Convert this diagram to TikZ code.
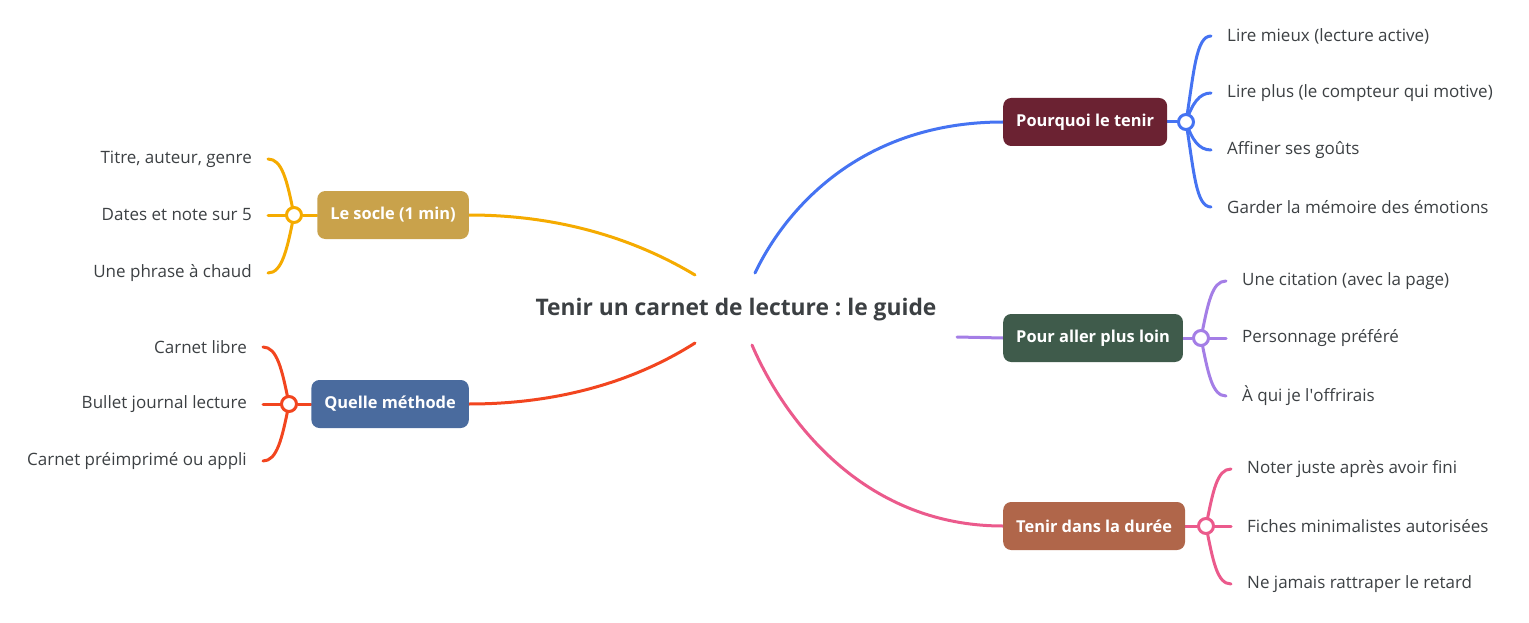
\documentclass[tikz,border=0pt]{standalone}
\usepackage{fontspec}
\setmainfont{Open Sans}
\usetikzlibrary{positioning}
\frenchspacing

\definecolor{ink}{HTML}{3C4043}
\definecolor{cBlue}{HTML}{4573F2}
\definecolor{cPurple}{HTML}{A47EE6}
\definecolor{cPink}{HTML}{EB5A8C}
\definecolor{cYellow}{HTML}{F5AB00}
\definecolor{cRed}{HTML}{F2451F}
\definecolor{boxWhy}{HTML}{6B2232}
\definecolor{boxMore}{HTML}{3F5B4B}
\definecolor{boxKeep}{HTML}{B0664A}
\definecolor{boxBase}{HTML}{C9A24B}
\definecolor{boxHow}{HTML}{4A6B9E}

\pgfdeclarelayer{bg}
\pgfsetlayers{bg,main}

\tikzset{
  topic/.style={fill=#1, rounded corners=8pt, text=white,
    font=\bfseries\fontsize{16.4}{19}\selectfont, minimum height=48pt, inner xsep=13pt},
  leaf/.style={text=ink, font=\fontsize{17}{20}\selectfont, inner xsep=16pt, inner ysep=2pt},
  knob/.style={circle, draw=#1, fill=white, line width=3pt, minimum size=15pt, inner sep=0pt},
  branch/.style={draw=#1, line width=3pt, line cap=round}
}

\begin{document}
\begin{tikzpicture}[x=1pt, y=-1pt]
\useasboundingbox (0,0) rectangle (1529,623);

% centre
\node[text=ink, font=\bfseries\fontsize{22.8}{26}\selectfont] (title) at (736,310) {Tenir un carnet de lecture : le guide};
\coordinate (hubNW) at (695,275);
\coordinate (hubNE) at (755,273);
\coordinate (hubSW) at (695,343);
\coordinate (hubSE) at (752,345);
\coordinate (hubE)  at (957,337);

% main topics
\node[topic=boxWhy, anchor=west]  (why)  at (1003,122) {Pourquoi le tenir};
\node[topic=boxMore, anchor=west] (more) at (1003,338) {Pour aller plus loin};
\node[topic=boxKeep, anchor=west] (keep) at (1003,526) {Tenir dans la durée};
\node[topic=boxBase, anchor=east] (base) at (469,215) {Le socle (1 min)};
\node[topic=boxHow, anchor=east]  (how)  at (469,404) {Quelle méthode};

\node[knob=cBlue]   (whyK)  at (1186,122) {};
\node[knob=cPurple] (moreK) at (1201,338) {};
\node[knob=cPink]   (keepK) at (1206,526) {};
\node[knob=cYellow] (baseK) at (294,215) {};
\node[knob=cRed]    (howK)  at (289,404) {};

% leaves
\node[leaf, anchor=west] (why1) at (1211,36)  {Lire mieux (lecture active)};
\node[leaf, anchor=west] (why2) at (1211,93)  {Lire plus (le compteur qui motive)};
\node[leaf, anchor=west] (why3) at (1211,150) {Affiner ses goûts};
\node[leaf, anchor=west] (why4) at (1211,207) {Garder la mémoire des émotions};

\node[leaf, anchor=west] (more1) at (1226,281) {Une citation (avec la page)};
\node[leaf, anchor=west] (more2) at (1226,338) {Personnage préféré};
\node[leaf, anchor=west] (more3) at (1226,396) {À qui je l{\textquotesingle}offrirais};

\node[leaf, anchor=west] (keep1) at (1231,469) {Noter juste après avoir fini};
\node[leaf, anchor=west] (keep2) at (1231,526) {Fiches minimalistes autorisées};
\node[leaf, anchor=west] (keep3) at (1231,584) {Ne jamais rattraper le retard};

\node[leaf, anchor=east] (base1) at (268,159) {Titre, auteur, genre};
\node[leaf, anchor=east] (base2) at (268,215) {Dates et note sur 5};
\node[leaf, anchor=east] (base3) at (268,273) {Une phrase à chaud};

\node[leaf, anchor=east] (how1) at (263,347) {Carnet libre};
\node[leaf, anchor=east] (how2) at (263,404) {Bullet journal lecture};
\node[leaf, anchor=east] (how3) at (263,461) {Carnet préimprimé ou appli};

\begin{pgfonlayer}{bg}
% from the centre
\draw[branch=cBlue]   (hubNE) .. controls (785,210) and (860,122) .. (why.west);
\draw[branch=cPurple] (hubE) -- (more.west);
\draw[branch=cPink]   (hubSE) .. controls (782,415) and (860,526) .. (keep.west);
\draw[branch=cYellow] (hubNW) .. controls (640,242) and (565,215) .. (base.east);
\draw[branch=cRed]    (hubSW) .. controls (640,378) and (565,404) .. (how.east);

% topic to knob
\draw[branch=cBlue]   (why.east) -- (whyK);
\draw[branch=cPurple] (more.east) -- (moreK);
\draw[branch=cPink]   (keep.east) -- (keepK);
\draw[branch=cYellow] (base.west) -- (baseK);
\draw[branch=cRed]    (how.west) -- (howK);

% knob to leaves
\draw[branch=cBlue] (whyK.center) .. controls +(8,-50) and +(-15,0) .. (why1.west);
\draw[branch=cBlue] (whyK.center) .. controls +(6,-18) and +(-12,0) .. (why2.west);
\draw[branch=cBlue] (whyK.center) .. controls +(6,18) and +(-12,0) .. (why3.west);
\draw[branch=cBlue] (whyK.center) .. controls +(8,50) and +(-15,0) .. (why4.west);

\draw[branch=cPurple] (moreK.center) .. controls +(7,-35) and +(-14,0) .. (more1.west);
\draw[branch=cPurple] (moreK.center) -- (more2.west);
\draw[branch=cPurple] (moreK.center) .. controls +(7,35) and +(-14,0) .. (more3.west);

\draw[branch=cPink] (keepK.center) .. controls +(7,-35) and +(-14,0) .. (keep1.west);
\draw[branch=cPink] (keepK.center) -- (keep2.west);
\draw[branch=cPink] (keepK.center) .. controls +(7,35) and +(-14,0) .. (keep3.west);

\draw[branch=cYellow] (baseK.center) .. controls +(-7,-35) and +(14,0) .. (base1.east);
\draw[branch=cYellow] (baseK.center) -- (base2.east);
\draw[branch=cYellow] (baseK.center) .. controls +(-7,35) and +(14,0) .. (base3.east);

\draw[branch=cRed] (howK.center) .. controls +(-7,-35) and +(14,0) .. (how1.east);
\draw[branch=cRed] (howK.center) -- (how2.east);
\draw[branch=cRed] (howK.center) .. controls +(-7,35) and +(14,0) .. (how3.east);
\end{pgfonlayer}
\end{tikzpicture}
\end{document}
